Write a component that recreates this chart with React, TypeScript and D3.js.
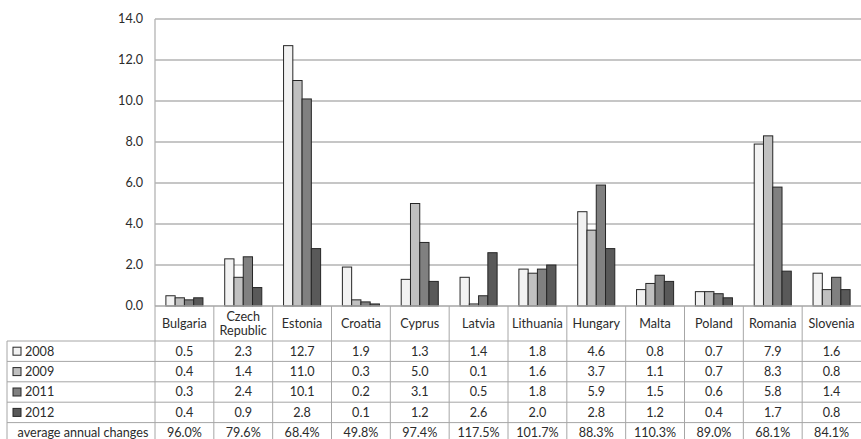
import React from "react";
import * as d3 from "d3";

const categories = ["Bulgaria", "Czech Republic", "Estonia", "Croatia", "Cyprus", "Latvia", "Lithuania", "Hungary", "Malta", "Poland", "Romania", "Slovenia"];
const seriesNames = ["2008", "2009", "2011", "2012"];
const v2008 = [0.5, 2.3, 12.7, 1.9, 1.3, 1.4, 1.8, 4.6, 0.8, 0.7, 7.9, 1.6];
const v2009 = [0.4, 1.4, 11.0, 0.3, 5.0, 0.1, 1.6, 3.7, 1.1, 0.7, 8.3, 0.8];
const v2011 = [0.3, 2.4, 10.1, 0.2, 3.1, 0.5, 1.8, 5.9, 1.5, 0.6, 5.8, 1.4];
const v2012 = [0.4, 0.9, 2.8, 0.1, 1.2, 2.6, 2.0, 2.8, 1.2, 0.4, 1.7, 0.8];
const avgChanges = ["96.0%", "79.6%", "68.4%", "49.8%", "97.4%", "117.5%", "101.7%", "88.3%", "110.3%", "89.0%", "68.1%", "84.1%"];
const yTicks = [0, 2, 4, 6, 8, 10, 12, 14];
const avgLabel = "average annual changes";

const seriesValues = [v2008, v2009, v2011, v2012];
const colors = ["#f2f2f2", "#c0c0c0", "#808080", "#595959"];

export default function App() {
  const W = 861, H = 439;
  const left = 155, right = 861, top = 19, bottom = 306;
  const tableLeft = 7;
  const headerBottom = 341;
  const rowH = 20.4;
  const font = "Lato, 'Open Sans', sans-serif";
  const fs = 12.6;

  const x = d3.scaleBand<string>().domain(categories).range([left, right]);
  const y = d3.scaleLinear().domain([0, 14]).range([bottom, top]);
  const groupW = x.bandwidth() * 0.63;
  const xs = d3.scaleBand<string>().domain(seriesNames).range([0, groupW]);

  const rowsTop = seriesNames.map((_, i) => headerBottom + i * rowH);
  const avgTop = headerBottom + 4 * rowH;
  const tableBottom = avgTop + rowH + 4;

  const gridColor = "#b3b3b3";
  const lineColor = "#a6a6a6";
  const textColor = "#2b2b2b";

  return (
    <svg width={W} height={H} style={{ position: "absolute", left: 0, top: 0, background: "#fff" }} fontFamily={font}>
      {yTicks.map((t) => (
        <g key={t}>
          {t > 0 && <line x1={left} x2={right} y1={y(t)} y2={y(t)} stroke={gridColor} strokeWidth={1.3} />}
          <text x={left - 12} y={y(t)} dy="0.35em" textAnchor="end" fontSize={fs} fill={textColor}>{t.toFixed(1)}</text>
        </g>
      ))}
      <line x1={left} x2={left} y1={top} y2={bottom} stroke={gridColor} strokeWidth={1.3} />
      {categories.map((c, ci) => {
        const gx = (x(c) as number) + (x.bandwidth() - groupW) / 2;
        return (
          <g key={c}>
            {seriesNames.map((s, si) => {
              const v = seriesValues[si][ci];
              return (
                <rect key={s} x={gx + (xs(s) as number)} y={y(v)} width={xs.bandwidth()} height={y(0) - y(v)}
                  fill={colors[si]} stroke="#262626" strokeWidth={1} />
              );
            })}
          </g>
        );
      })}
      <line x1={left} x2={right} y1={bottom} y2={bottom} stroke={lineColor} strokeWidth={1.3} />
      {[...rowsTop, avgTop].map((ry, i) => (
        <line key={i} x1={tableLeft} x2={right} y1={ry} y2={ry} stroke={lineColor} strokeWidth={1} />
      ))}
      <line x1={tableLeft} x2={tableLeft} y1={headerBottom} y2={tableBottom} stroke={lineColor} strokeWidth={1} />
      {categories.map((c) => (
        <line key={c} x1={x(c) as number} x2={x(c) as number} y1={bottom} y2={tableBottom} stroke={lineColor} strokeWidth={1} />
      ))}
      {categories.map((c) => {
        const cx = (x(c) as number) + x.bandwidth() / 2;
        const parts = c === "Czech Republic" ? ["Czech", "Republic"] : [c];
        const midY = (bottom + headerBottom) / 2;
        return (
          <text key={c} textAnchor="middle" fontSize={fs} fill={textColor}>
            {parts.map((p, i) => (
              <tspan key={i} x={cx} y={midY + (i - (parts.length - 1) / 2) * 14} dy="0.35em">{p}</tspan>
            ))}
          </text>
        );
      })}
      {seriesNames.map((s, si) => (
        <g key={s}>
          <rect x={13} y={rowsTop[si] + rowH / 2 - 4} width={8} height={8} fill={colors[si]} stroke="#262626" strokeWidth={1} />
          <text x={25} y={rowsTop[si] + rowH / 2} dy="0.35em" fontSize={fs} fill={textColor}>{s}</text>
          {categories.map((c, ci) => (
            <text key={c} x={(x(c) as number) + x.bandwidth() / 2} y={rowsTop[si] + rowH / 2} dy="0.35em" textAnchor="middle" fontSize={fs} fill={textColor}>
              {seriesValues[si][ci].toFixed(1)}
            </text>
          ))}
        </g>
      ))}
      <text x={(tableLeft + left) / 2 + 2} y={avgTop + rowH / 2} dy="0.3em" textAnchor="middle" fontSize={fs} fill={textColor}>{avgLabel}</text>
      {categories.map((c, ci) => (
        <text key={c} x={(x(c) as number) + x.bandwidth() / 2} y={avgTop + rowH / 2} dy="0.3em" textAnchor="middle" fontSize={fs} fill={textColor}>
          {avgChanges[ci]}
        </text>
      ))}
    </svg>
  );
}
